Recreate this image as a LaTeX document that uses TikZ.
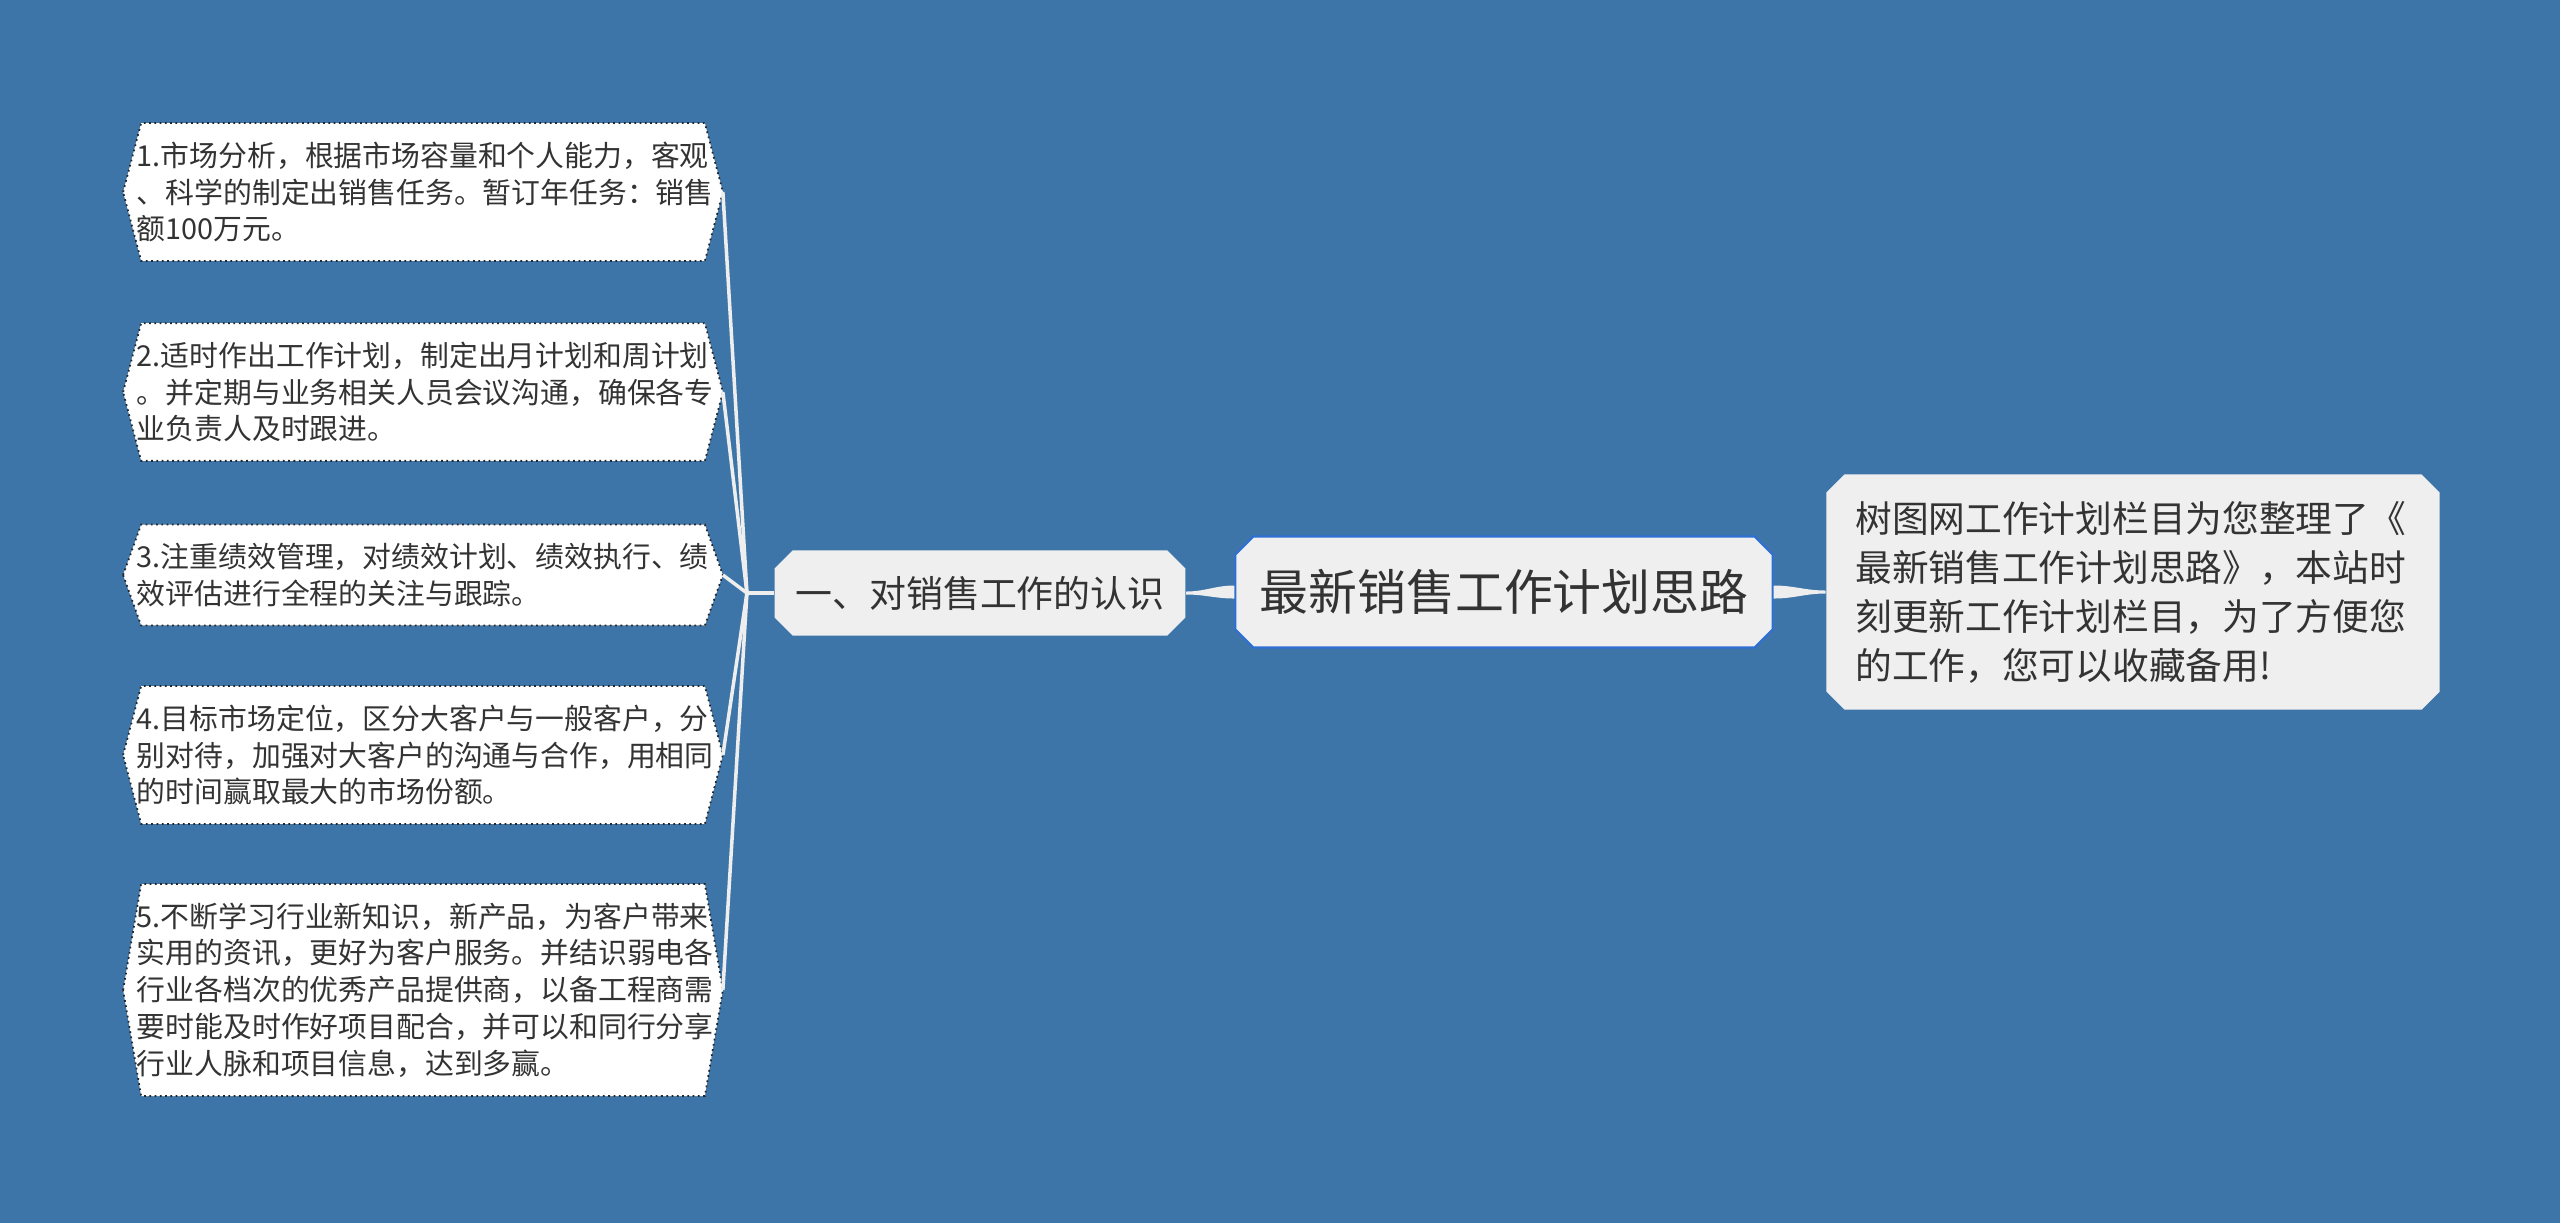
\documentclass[tikz,border=0pt]{standalone}
\usepackage{fontspec}
\newfontfamily\cjk{Noto Sans CJK SC}
\usetikzlibrary{shapes.misc,backgrounds}
\definecolor{bgblue}{HTML}{3E75A8}
\definecolor{paper}{HTML}{EFEFEF}
\definecolor{rootline}{HTML}{2F6FD4}
\definecolor{inkgray}{HTML}{333333}
\definecolor{twiggray}{HTML}{EEEEEE}

\begin{document}
\begin{tikzpicture}[x=0.01cm,y=-0.01cm,
  leaf/.style={rectangle,text width=5.72cm,inner xsep=0.13cm,inner ysep=0.18cm,
    align=left,text=inkgray,font=\cjk\fontsize{8.2}{10.45}\selectfont},
  leafedge/.style={fill=white,draw=black!85,densely dotted,line width=0.5pt},
  octa/.style={chamfered rectangle,chamfered rectangle xsep=0.09cm,
    chamfered rectangle ysep=0.09cm,fill=paper,text=inkgray},
  topic/.style={octa,minimum width=3.95cm,minimum height=0.85cm,
    font=\cjk\fontsize{10.5}{12}\selectfont},
  root/.style={octa,draw=rootline,line width=0.6pt,minimum width=5.37cm,
    minimum height=1.11cm,font=\cjk\fontsize{13.9}{16}\selectfont},
  note/.style={octa,text width=5.55cm,align=left,minimum height=2.35cm,inner xsep=0.2cm,
    font=\cjk\fontsize{10.44}{13.94}\selectfont},
  twig/.style={draw=twiggray,line width=1pt},
  limb/.style={fill=twiggray}]
\useasboundingbox (0,0) rectangle (2560,1223);
\begin{scope}[on background layer]
\fill[bgblue] (0,0) rectangle (2560,1223);
\end{scope}
\node[root] (c) at (1504,592) {最新销售工作计划思路};
\node[topic] (t1) at (980,593) {一、对销售工作的认识};
\node[note] (n1) at (2133,592) {树图网工作计划栏目为您整理了《\\最新销售工作计划思路》，本站时\\刻更新工作计划栏目，为了方便您\\的工作，您可以收藏备用!};
\node[leaf] (p1) at (423,192) {1.市场分析，根据市场容量和个人能力，客观\\、科学的制定出销售任务。暂订年任务：销售\\额100万元。};
\node[leaf] (p2) at (423,392) {2.适时作出工作计划，制定出月计划和周计划\\。并定期与业务相关人员会议沟通，确保各专\\业负责人及时跟进。};
\node[leaf] (p3) at (423,575) {3.注重绩效管理，对绩效计划、绩效执行、绩\\效评估进行全程的关注与跟踪。};
\node[leaf] (p4) at (423,755) {4.目标市场定位，区分大客户与一般客户，分\\别对待，加强对大客户的沟通与合作，用相同\\的时间赢取最大的市场份额。};
\node[leaf] (p5) at (423,990) {5.不断学习行业新知识，新产品，为客户带来\\实用的资讯，更好为客户服务。并结识弱电各\\行业各档次的优秀产品提供商，以备工程商需\\要时能及时作好项目配合，并可以和同行分享\\行业人脉和项目信息，达到多赢。};
\begin{scope}[on background layer]
\foreach \n in {p1,p2,p3,p4,p5}
  \draw[leafedge] (\n.west) -- ([xshift=0.18cm]\n.north west) -- ([xshift=-0.18cm]\n.north east)
    -- (\n.east) -- ([xshift=-0.18cm]\n.south east) -- ([xshift=0.18cm]\n.south west) -- cycle;
\end{scope}
\fill[limb] ([yshift=0.065cm]c.west) to[out=180,in=0] ([yshift=0.015cm]t1.east)
  -- ([yshift=-0.015cm]t1.east) to[out=0,in=180] ([yshift=-0.065cm]c.west) -- cycle;
\fill[limb] ([yshift=0.065cm]c.east) to[out=0,in=180] ([yshift=0.015cm]n1.west)
  -- ([yshift=-0.015cm]n1.west) to[out=180,in=0] ([yshift=-0.065cm]c.east) -- cycle;
\coordinate (hub) at ([xshift=-0.27cm]t1.west);
\draw[twig] (t1.west) -- (hub);
\foreach \n in {p1,p2,p3,p4,p5}
  \draw[twig] (hub) -- (\n.east);
\end{tikzpicture}
\end{document}
